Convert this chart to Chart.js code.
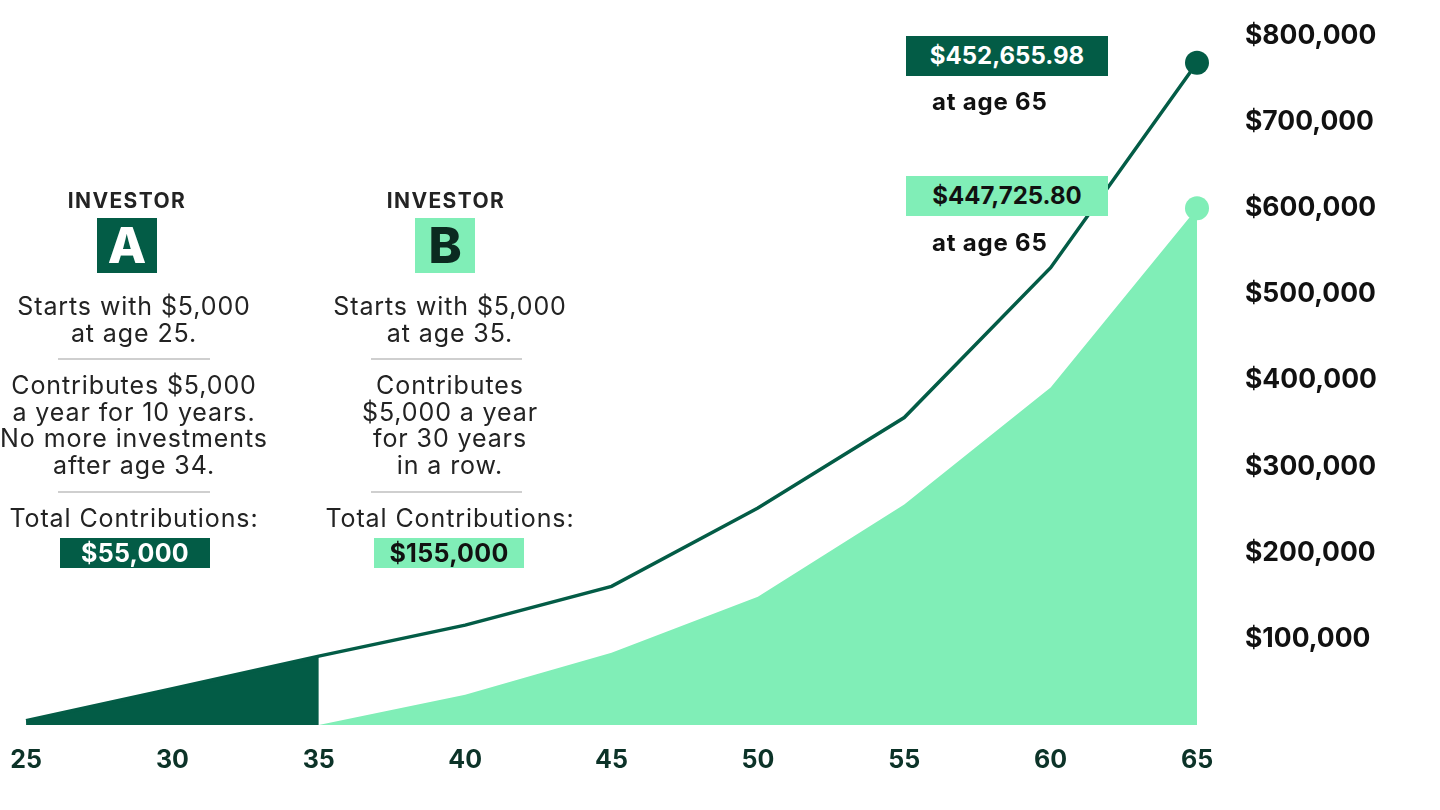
<!DOCTYPE html>
<html>
<head>
<meta charset="utf-8">
<script src="https://cdn.jsdelivr.net/npm/chart.js@4"></script>
<style>
  html, body { margin: 0; padding: 0; background: #fff; }
  body { width: 1440px; height: 810px; overflow: hidden; font-family: Inter, "Noto Sans", sans-serif; color: #232323; }
  #wrap { position: absolute; left: 0; top: 0; width: 1440px; height: 810px; }
  .abs { position: absolute; }
  .col { text-align: center; font-size: 25px; line-height: 26.5px; letter-spacing: 0.9px; white-space: nowrap; }
  .head { font-weight: 700; font-size: 21px; line-height: 24px; text-align: center; letter-spacing: 1.4px; }
  .letter { font-weight: 800; font-size: 50px; line-height: 55px; text-align: center; }
  .rule { height: 1.5px; background: #cfcfcf; }
  .tot { font-weight: 700; font-size: 25px; line-height: 30px; text-align: center; letter-spacing: 0.3px; }
  .val { font-weight: 700; font-size: 24px; line-height: 40px; text-align: center; }
  .age { font-weight: 700; font-size: 24px; line-height: 28px; color: #111; letter-spacing: 0.8px; }
</style>
</head>
<body>
<div id="wrap"><canvas id="myChart"></canvas></div>

<div class="abs head" style="left:57px;top:189px;width:140px;">INVESTOR</div>
<div class="abs letter" style="left:97px;top:218px;width:60px;height:55px;background:#035c46;color:#fff;">A</div>
<div class="abs col" style="left:-16px;top:293px;width:300px;">Starts with $5,000<br>at age 25.</div>
<div class="abs rule" style="left:58px;top:358px;width:152px;"></div>
<div class="abs col" style="left:-16px;top:372px;width:300px;">Contributes $5,000<br>a year for 10 years.<br>No more investments<br>after age 34.</div>
<div class="abs rule" style="left:58px;top:491px;width:152px;"></div>
<div class="abs col" style="left:-16px;top:505px;width:300px;">Total Contributions:</div>
<div class="abs tot" style="left:60px;top:538px;width:150px;height:30px;background:#035c46;color:#fff;">$55,000</div>

<div class="abs head" style="left:376px;top:189px;width:140px;">INVESTOR</div>
<div class="abs letter" style="left:415px;top:218px;width:60px;height:55px;background:#80eeb7;color:#0b2a20;">B</div>
<div class="abs col" style="left:300px;top:293px;width:300px;">Starts with $5,000<br>at age 35.</div>
<div class="abs rule" style="left:371px;top:358px;width:151px;"></div>
<div class="abs col" style="left:300px;top:372px;width:300px;">Contributes<br>$5,000 a year<br>for 30 years<br>in a row.</div>
<div class="abs rule" style="left:371px;top:491px;width:151px;"></div>
<div class="abs col" style="left:300px;top:505px;width:300px;">Total Contributions:</div>
<div class="abs tot" style="left:374px;top:538px;width:150px;height:30px;background:#80eeb7;color:#111;">$155,000</div>

<div class="abs val" style="left:906px;top:36px;width:202px;height:40px;background:#035c46;color:#fff;">$452,655.98</div>
<div class="abs age" style="left:932px;top:88px;">at age 65</div>
<div class="abs val" style="left:906px;top:176px;width:202px;height:40px;background:#80eeb7;color:#111;">$447,725.80</div>
<div class="abs age" style="left:932px;top:229px;">at age 65</div>

<script>
// ages on the x axis
const ages = [25, 30, 35, 40, 45, 50, 55, 60, 65];
// investor A: starts at 25, stops contributing after 34
const investorA = [5000, 42000, 80000, 116000, 161000, 252000, 357000, 531000, 769000];
// investor B: starts at 35
const investorB = [null, null, 0, 35000, 84000, 149000, 256000, 392000, 600000];
const yTicks = [0, 100000, 200000, 300000, 400000, 500000, 600000, 700000, 800000];

const darkGreen = "#035c46";
const lightGreen = "#80eeb7";

const toPts = (vals) => ages.map((a, i) => ({ x: a, y: vals[i] }));
const lastOnly = (r) => ages.map((a, i) => (i === ages.length - 1 ? r : 0));

Chart.defaults.font.family = "Inter, 'Noto Sans', sans-serif";

const ctx = document.getElementById("myChart");
new Chart(ctx, {
  type: "line",
  data: {
    datasets: [
      {
        label: "Investor A",
        data: toPts(investorA),
        borderColor: darkGreen,
        borderWidth: 3.5,
        fill: false,
        clip: false,
        pointRadius: lastOnly(12),
        pointBackgroundColor: darkGreen,
        pointBorderWidth: 0,
        order: 0
      },
      {
        label: "Investor B",
        data: toPts(investorB),
        borderWidth: 0,
        borderColor: lightGreen,
        backgroundColor: lightGreen,
        fill: "origin",
        clip: false,
        pointRadius: lastOnly(12),
        pointBackgroundColor: lightGreen,
        pointBorderWidth: 0,
        order: 1
      },
      {
        label: "Investor A contributions",
        data: toPts(investorA).filter(p => p.x <= 35),
        borderWidth: 0,
        backgroundColor: darkGreen,
        fill: "origin",
        pointRadius: 0,
        order: 2
      }
    ]
  },
  options: {
    responsive: true,
    maintainAspectRatio: false,
    animation: false,
    layout: { padding: { top: 36, left: 0, right: 0, bottom: 0 } },
    plugins: { legend: { display: false }, tooltip: { enabled: false } },
    scales: {
      x: {
        type: "linear",
        min: 24.52,
        max: 65,
        grid: { display: false, drawTicks: false },
        border: { display: false },
        afterBuildTicks: (s) => { s.ticks = ages.map(v => ({ value: v })); },
        afterFit: (s) => { s.height = 85; s.paddingLeft = 0; s.paddingRight = 0; },
        ticks: {
          padding: 20,
          color: "#0c3328",
          font: { size: 25, weight: "bold" },
          maxRotation: 0,
          autoSkip: false
        }
      },
      y: {
        position: "right",
        min: 0,
        max: 800000,
        grid: { display: false, drawTicks: false },
        border: { display: false },
        afterBuildTicks: (s) => { s.ticks = yTicks.map(v => ({ value: v })); },
        afterFit: (s) => { s.width = 243; s.paddingTop = 0; s.paddingBottom = 0; },
        ticks: {
          padding: 48,
          color: "#111",
          font: { size: 26.5, weight: "bold" },
          callback: (v) => (v === 0 ? "" : "$" + v.toLocaleString("en-US"))
        }
      }
    }
  }
});
</script>
</body>
</html>
